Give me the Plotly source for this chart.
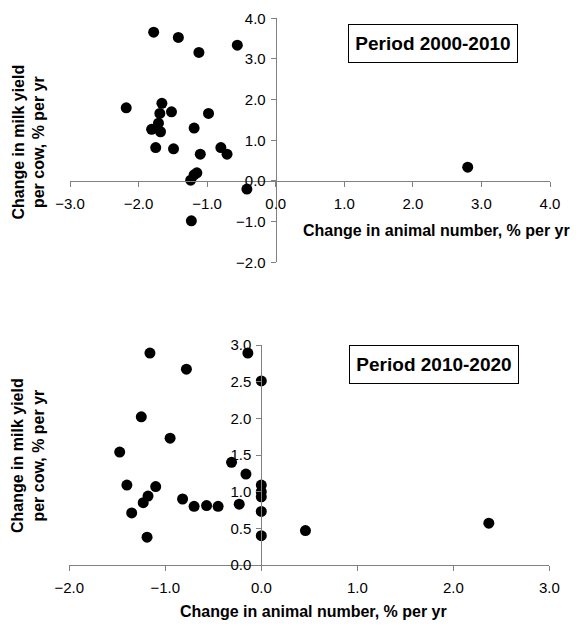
import plotly.graph_objects as go

W, H = 577, 626

# ---- Data: Period 2000-2010 ----
x_2000_2010 = [-1.78, -1.42, -1.12, -0.56, -2.18, -1.66, -1.69, -1.52, -0.98, -1.71,
               -1.81, -1.68, -1.19, -1.75, -1.49, -1.10, -0.80, -0.71, -1.24, -1.19,
               -1.15, -0.42, -1.23, 2.80]
y_2000_2010 = [3.66, 3.53, 3.16, 3.34, 1.80, 1.91, 1.66, 1.70, 1.66, 1.42,
               1.27, 1.21, 1.30, 0.82, 0.79, 0.66, 0.82, 0.66, 0.02, 0.15,
               0.20, -0.20, -0.98, 0.34]

# ---- Data: Period 2010-2020 ----
x_2010_2020 = [-1.16, -0.78, -0.14, 0.00, -1.25, -0.95, -1.475, -0.31, -0.16, -1.40,
               -1.10, -1.18, -1.23, -1.35, -1.19, -0.82, -0.70, -0.57, -0.45, -0.23,
               0.00, 0.00, 0.00, 0.00, 0.00, 0.46, 2.37]
y_2010_2020 = [2.89, 2.67, 2.89, 2.51, 2.02, 1.73, 1.54, 1.40, 1.24, 1.09,
               1.07, 0.94, 0.85, 0.71, 0.38, 0.90, 0.80, 0.81, 0.80, 0.83,
               1.09, 1.00, 0.93, 0.73, 0.40, 0.47, 0.57]

xr1, yr1 = [-3, 4], [-2, 4]
xr2, yr2 = [-2, 3], [0, 3]
xticks1 = [-3, -2, -1, 0, 1, 2, 3, 4]
yticks1 = [-2, -1, 0, 1, 2, 3, 4]
xticks2 = [-2, -1, 0, 1, 2, 3]
yticks2 = [0, 0.5, 1.0, 1.5, 2.0, 2.5, 3.0]

x_title = "Change in animal number, % per yr"
y_title = "Change in milk yield<br>per cow, % per yr"
period1 = "Period 2000-2010"
period2 = "Period 2010-2020"


def fx(px):
    return px / W


def fy(py):
    return 1 - py / H


xdom1 = [fx(70), fx(550)]
ydom1 = [fy(262.3), fy(18.3)]
xdom2 = [fx(69.3), fx(549.3)]
ydom2 = [fy(565), fy(345)]


def zero_pos(dom, rng):
    return dom[0] + (0 - rng[0]) / (rng[1] - rng[0]) * (dom[1] - dom[0])


FONT = "Liberation Sans, Arial, sans-serif"
AXC = "#808080"

axis_common = dict(
    showline=True, linecolor=AXC, linewidth=1,
    ticks="outside", ticklen=5, tickwidth=1, tickcolor=AXC,
    showgrid=False, zeroline=False, automargin=False,
    tickfont=dict(family=FONT, size=15, color="black"),
    tickformat=".1f", tickmode="array",
)
xstand = dict(ticklabelstandoff=4)
ystand = dict(ticklabelstandoff=2)

fig = go.Figure()
fig.add_trace(go.Scatter(x=x_2000_2010, y=y_2000_2010, mode="markers",
                         marker=dict(size=11, color="black"),
                         xaxis="x", yaxis="y", showlegend=False, cliponaxis=False))
fig.add_trace(go.Scatter(x=x_2010_2020, y=y_2010_2020, mode="markers",
                         marker=dict(size=11, color="black"),
                         xaxis="x2", yaxis="y2", showlegend=False, cliponaxis=False))

fig.update_layout(
    width=W, height=H,
    margin=dict(l=0, r=0, t=0, b=0, autoexpand=False),
    paper_bgcolor="white", plot_bgcolor="rgba(0,0,0,0)",
    font=dict(family=FONT, color="black"),
    xaxis=dict(axis_common, **xstand, domain=xdom1, range=xr1, tickvals=xticks1,
               anchor="free", position=zero_pos(ydom1, yr1)),
    yaxis=dict(axis_common, **ystand, domain=ydom1, range=yr1, tickvals=yticks1,
               anchor="free", position=zero_pos(xdom1, xr1)),
    xaxis2=dict(axis_common, **xstand, domain=xdom2, range=xr2, tickvals=xticks2,
                anchor="y2"),
    yaxis2=dict(axis_common, **ystand, domain=ydom2, range=yr2, tickvals=yticks2,
                anchor="free", position=zero_pos(xdom2, xr2)),
)

tfont = dict(family=FONT, size=16, color="black")
pfont = dict(family=FONT, size=19, color="black")
annotations = [
    dict(text="<b>" + x_title + "</b>", x=fx(436), y=fy(231), xref="paper", yref="paper",
         xanchor="center", yanchor="middle", showarrow=False, font=tfont),
    dict(text="<b>" + x_title + "</b>", x=fx(313), y=fy(611), xref="paper", yref="paper",
         xanchor="center", yanchor="middle", showarrow=False, font=tfont),
    dict(text="<b>" + y_title + "</b>", x=fx(28), y=fy(142.5), xref="paper", yref="paper",
         xanchor="center", yanchor="middle", showarrow=False, font=tfont, textangle=-90),
    dict(text="<b>" + y_title + "</b>", x=fx(28), y=fy(456), xref="paper", yref="paper",
         xanchor="center", yanchor="middle", showarrow=False, font=tfont, textangle=-90),
    dict(text="<b>" + period1 + "</b>", x=fx(433), y=fy(43.5), xref="paper", yref="paper",
         xanchor="center", yanchor="middle", showarrow=False, font=pfont,
         bordercolor="black", borderwidth=1, borderpad=2, bgcolor="white",
         width=164, height=33),
    dict(text="<b>" + period2 + "</b>", x=fx(433.5), y=fy(364), xref="paper", yref="paper",
         xanchor="center", yanchor="middle", showarrow=False, font=pfont,
         bordercolor="black", borderwidth=1, borderpad=2, bgcolor="white",
         width=164, height=33),
]
fig.update_layout(annotations=annotations)

fig.write_html("out.html")
